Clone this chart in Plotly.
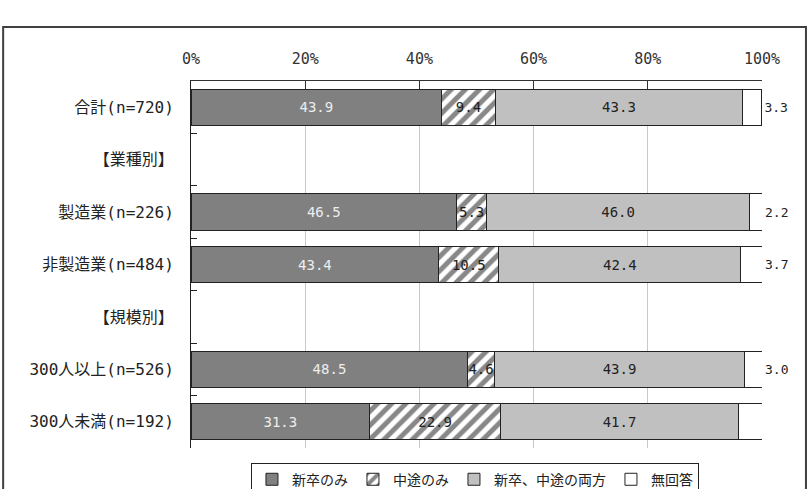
import plotly.graph_objects as go

categories = ["合計(n=720)", "【業種別】", "製造業(n=226)", "非製造業(n=484)",
              "【規模別】", "300人以上(n=526)", "300人未満(n=192)"]
shinsotsu = [43.9, None, 46.5, 43.4, None, 48.5, 31.3]
chuto = [9.4, None, 5.3, 10.5, None, 4.6, 22.9]
ryoho = [43.3, None, 46.0, 42.4, None, 43.9, 41.7]
mukaito = [3.3, None, 2.2, 3.7, None, 3.0, 4.2]
series_names = ["新卒のみ", "中途のみ", "新卒、中途の両方", "無回答"]
xticks = [0, 20, 40, 60, 80, 100]
xticklabels = ["0%", "20%", "40%", "60%", "80%", "100%"]

FONT = "DejaVu Sans Mono, Noto Sans CJK JP"
JFONT = "Noto Sans CJK JP"

def fmt(vals):
    return ["" if v is None else f"{v:.1f}" for v in vals]

common = dict(orientation="h", textangle=0, constraintext="none")

fig = go.Figure()
fig.add_trace(go.Bar(
    y=categories, x=shinsotsu, name=series_names[0],
    marker=dict(color="#808080", line=dict(color="#222222", width=1)),
    text=fmt(shinsotsu), textposition="inside", insidetextanchor="middle",
    textfont=dict(color="#eeeeee", size=14, family=FONT), **common))
fig.add_trace(go.Bar(
    y=categories, x=chuto, name=series_names[1],
    marker=dict(color="white", line=dict(color="#222222", width=1),
                pattern=dict(shape="/", fgcolor="#111111", bgcolor="white",
                             size=10, solidity=0.5)),
    text=fmt(chuto), textposition="inside", insidetextanchor="middle",
    textfont=dict(color="#222222", size=14, family=FONT), **common))
fig.add_trace(go.Bar(
    y=categories, x=ryoho, name=series_names[2],
    marker=dict(color="#c0c0c0", line=dict(color="#222222", width=1)),
    text=fmt(ryoho), textposition="inside", insidetextanchor="middle",
    textfont=dict(color="#222222", size=14, family=FONT), **common))
fig.add_trace(go.Bar(
    y=categories, x=mukaito, name=series_names[3],
    marker=dict(color="white", line=dict(color="#222222", width=1)),
    text=fmt(mukaito), textposition="outside", cliponaxis=False,
    textfont=dict(color="#222222", size=13, family=FONT), **common))

fig.update_layout(
    width=812, height=489,
    margin=dict(l=191, r=50, t=81, b=41, autoexpand=False),
    barmode="stack", bargap=0.31,
    paper_bgcolor="white", plot_bgcolor="white",
    font=dict(family=FONT, color="#222222"),
    xaxis=dict(side="top", range=[0, 100], tickvals=xticks, ticktext=xticklabels,
               showgrid=True, gridcolor="#c8c8c8", gridwidth=1,
               showline=True, linecolor="#333333", linewidth=1,
               ticks="inside", ticklen=8, tickcolor="#333333",
               ticklabelstandoff=10, zeroline=False,
               tickfont=dict(size=15, color="#333333", family=FONT)),
    yaxis=dict(autorange="reversed", type="category",
               showline=True, linecolor="#222222", linewidth=1,
               ticks="inside", tickson="boundaries", ticklen=6, tickcolor="#222222",
               ticklabelstandoff=13, showgrid=False,
               tickfont=dict(size=16, color="#222222", family=FONT)),
    legend=dict(orientation="h", x=0.105, xanchor="left", y=-0.04, yanchor="top",
                bordercolor="#222222", borderwidth=1, itemwidth=30,
                font=dict(size=14, family=JFONT, color="#222222"),
                traceorder="normal"),
    showlegend=True,
)

fig.add_shape(type="rect", xref="paper", yref="paper",
              x0=-0.329, x1=1.077, y0=-0.2, y1=1.147,
              line=dict(color="#404040", width=2), fillcolor="rgba(0,0,0,0)",
              layer="above")

fig.write_html("out.html")
